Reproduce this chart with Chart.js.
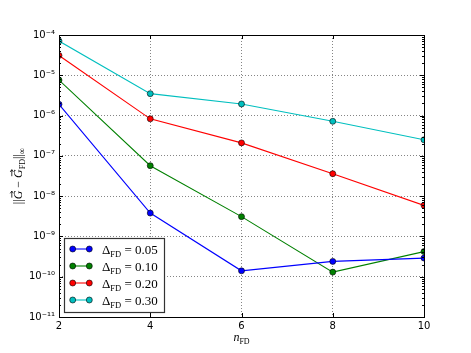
<!DOCTYPE html>
<html><head>
<script src="https://cdn.jsdelivr.net/npm/chart.js@4/dist/chart.umd.min.js"></script>
<style>html,body{margin:0;padding:0;background:#fff}</style>
</head><body>
<canvas id="c" width="471" height="353"></canvas>
<script>
const nFD = [2, 4, 6, 8, 10];
const d005 = [1.9e-6, 3.8e-9, 1.4e-10, 2.4e-10, 2.9e-10];
const d010 = [7.6e-6, 5.7e-8, 3.1e-9, 1.3e-10, 4.2e-10];
const d020 = [3.1e-5, 8.3e-7, 2.1e-7, 3.6e-8, 5.9e-9];
const d030 = [7.1e-5, 3.5e-6, 1.94e-6, 7.2e-7, 2.5e-7];
const deltaLabels = ['0.05', '0.10', '0.20', '0.30'];
const seriesColors = ['#0000ff', '#008000', '#ff0000', '#00bfbf'];
const yExponents = [-11, -10, -9, -8, -7, -6, -5, -4];
const xTickValues = [2, 4, 6, 8, 10];

const SUP = {'-':'\u207B','0':'\u2070','1':'\u00B9','2':'\u00B2','3':'\u00B3','4':'\u2074','5':'\u2075','6':'\u2076','7':'\u2077','8':'\u2078','9':'\u2079'};
const sup = s => String(s).split('').map(c => SUP[c] || c).join('');

const allSeries = [d005, d010, d020, d030];
const datasets = allSeries.map((vals, i) => ({
  label: 'ΔFD = ' + deltaLabels[i],
  data: nFD.map((x, j) => ({x: x, y: vals[j]})),
  borderColor: seriesColors[i],
  backgroundColor: seriesColors[i],
  pointBackgroundColor: seriesColors[i],
  pointBorderColor: '#000',
  pointBorderWidth: 0.6,
  pointRadius: 3,
  borderWidth: 1.1,
  tension: 0,
  clip: 0
}));

const SERIF = '"Liberation Serif", "DejaVu Serif", serif';

// parts: [text, size, dy, italic, arrow]
function drawSubText(ctx, parts, x, y) {
  let cx = x;
  for (const p of parts) {
    ctx.font = (p[3] ? 'italic ' : '') + p[1] + 'px ' + SERIF;
    ctx.fillText(p[0], cx, y + p[2]);
    const w = ctx.measureText(p[0]).width;
    if (p[4]) {
      const ay = y + p[2] - p[1] * 0.85;
      const x0 = cx + w * 0.2, x1 = cx + w * 0.95;
      ctx.save();
      ctx.strokeStyle = ctx.fillStyle;
      ctx.lineWidth = 0.8;
      ctx.beginPath();
      ctx.moveTo(x0, ay); ctx.lineTo(x1, ay);
      ctx.moveTo(x1 - 2.2, ay - 1.6); ctx.lineTo(x1, ay); ctx.lineTo(x1 - 2.2, ay + 1.6);
      ctx.stroke();
      ctx.restore();
    }
    cx += w;
  }
  return cx - x;
}
function measureSub(ctx, parts) {
  let w = 0;
  for (const p of parts) {
    ctx.font = (p[3] ? 'italic ' : '') + p[1] + 'px ' + SERIF;
    w += ctx.measureText(p[0]).width;
  }
  return w;
}

const decor = {
  id: 'decor',
  afterDatasetsDraw(chart) {
    const ctx = chart.ctx;
    const a = chart.chartArea;
    const xs = chart.scales.x, ys = chart.scales.y;
    ctx.save();
    ctx.strokeStyle = '#000';
    ctx.lineWidth = 1;
    ctx.beginPath();
    for (const v of xTickValues) {
      const px = Math.round(xs.getPixelForValue(v)) + 0.5;
      ctx.moveTo(px, a.bottom); ctx.lineTo(px, a.bottom - 4);
      ctx.moveTo(px, a.top); ctx.lineTo(px, a.top + 4);
    }
    for (let e = -11; e <= -4; e++) {
      const py = Math.round(ys.getPixelForValue(Math.pow(10, e))) + 0.5;
      ctx.moveTo(a.left, py); ctx.lineTo(a.left + 4, py);
      ctx.moveTo(a.right, py); ctx.lineTo(a.right - 4, py);
      if (e < -4) {
        for (let m = 2; m <= 9; m++) {
          const pm = Math.round(ys.getPixelForValue(m * Math.pow(10, e))) + 0.5;
          ctx.moveTo(a.left, pm); ctx.lineTo(a.left + 2, pm);
          ctx.moveTo(a.right, pm); ctx.lineTo(a.right - 2, pm);
        }
      }
    }
    ctx.stroke();
    ctx.strokeRect(Math.round(a.left) + 0.5, Math.round(a.top) + 0.5,
                   Math.round(a.right - a.left), Math.round(a.bottom - a.top));

    // legend
    const lx = 64, ly = 238, lw = 100, lh = 74;
    ctx.fillStyle = '#fff';
    ctx.fillRect(lx, ly, lw, lh);
    ctx.strokeStyle = '#333';
    ctx.lineWidth = 1.2;
    ctx.strokeRect(lx + 0.5, ly + 0.5, lw, lh);
    const rowY = [249, 266, 283, 300];
    chart.data.datasets.forEach((ds, i) => {
      const y = rowY[i];
      ctx.strokeStyle = seriesColors[i];
      ctx.lineWidth = 1.1;
      ctx.beginPath(); ctx.moveTo(72.7, y); ctx.lineTo(89.3, y); ctx.stroke();
      for (const mx of [72.7, 89.3]) {
        ctx.beginPath();
        ctx.arc(mx, y, 3, 0, Math.PI * 2);
        ctx.fillStyle = seriesColors[i];
        ctx.fill();
        ctx.strokeStyle = '#000';
        ctx.lineWidth = 0.6;
        ctx.stroke();
      }
      ctx.fillStyle = '#000';
      ctx.textBaseline = 'alphabetic';
      ctx.textAlign = 'left';
      drawSubText(ctx, [['Δ', 13, 0], ['FD', 8.5, 3], [' = ' + deltaLabels[i], 13, 0]], 102, y + 4.5);
    });

    // x title
    ctx.fillStyle = '#000';
    const xp = [['n', 12, 0, true], ['FD', 8, 2.5]];
    const xw = measureSub(ctx, xp);
    drawSubText(ctx, xp, (a.left + a.right) / 2 - xw / 2, 341);

    // y title
    ctx.save();
    ctx.translate(22, (a.top + a.bottom) / 2);
    ctx.rotate(-Math.PI / 2);
    const yp = [['||', 12, 0], ['G', 12, 0, true, true], [' \u2212 ', 12, 0], ['G', 12, 0, true, true], ['FD', 8, 2.5], ['||', 12, 0], ['\u221E', 9, 3]];
    const yw = measureSub(ctx, yp);
    drawSubText(ctx, yp, -yw / 2, 0);
    ctx.restore();
    ctx.restore();
  }
};

new Chart(document.getElementById('c'), {
  type: 'line',
  data: { datasets: datasets },
  plugins: [decor],
  options: {
    responsive: false,
    animation: false,
    devicePixelRatio: 1,
    layout: { padding: { top: 35, right: 47, left: 0, bottom: 0 } },
    plugins: { legend: { display: false }, tooltip: { enabled: false } },
    scales: {
      x: {
        type: 'linear', min: 2, max: 10,
        afterBuildTicks: s => { s.ticks = xTickValues.map(v => ({ value: v })); },
        afterFit: s => { s.height = 36; },
        ticks: { color: '#000', font: { family: '"DejaVu Sans"', size: 10 }, padding: 3, maxRotation: 0 },
        grid: { color: '#666', lineWidth: 0.8, drawTicks: false },
        border: { display: false, dash: [1, 2] }
      },
      y: {
        type: 'logarithmic', min: 1e-11, max: 1e-4,
        afterBuildTicks: s => { s.ticks = yExponents.map(e => ({ value: Math.pow(10, e) })); },
        afterFit: s => { s.width = 59; },
        ticks: {
          color: '#000', font: { family: '"DejaVu Sans"', size: 10 }, padding: 4,
          callback: v => '10' + sup(Math.round(Math.log10(v)))
        },
        grid: { color: '#666', lineWidth: 0.8, drawTicks: false },
        border: { display: false, dash: [1, 2] }
      }
    }
  }
});
</script>
</body></html>
